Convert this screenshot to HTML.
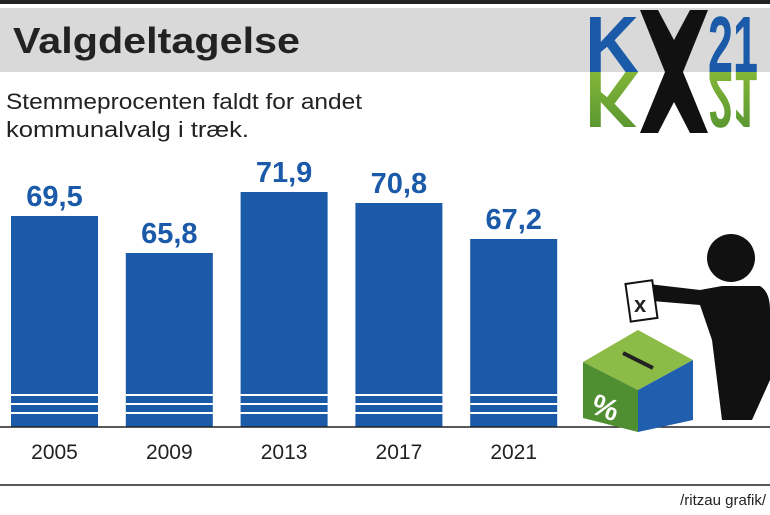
<!DOCTYPE html>
<html><head><meta charset="utf-8"><style>
body{margin:0;width:770px;height:515px;overflow:hidden;background:#fff;font-family:"Liberation Sans",sans-serif}
</style></head><body>
<svg width="770" height="515" style="position:absolute;left:0;top:0">
<rect x="0" y="0" width="770" height="4" fill="#222"/>
<rect x="0" y="8" width="770" height="64" fill="#d9d9d9"/>
<text x="13" y="53" font-size="36" font-weight="bold" fill="#222" textLength="287" lengthAdjust="spacingAndGlyphs">Valgdeltagelse</text>
<text x="6" y="109" font-size="22" fill="#222" textLength="356" lengthAdjust="spacingAndGlyphs">Stemmeprocenten faldt for andet</text>
<text x="6" y="137" font-size="22" fill="#222" textLength="243" lengthAdjust="spacingAndGlyphs">kommunalvalg i træk.</text>
<g>
<defs><linearGradient id="gr" x1="0" y1="0" x2="0" y2="1"><stop offset="0" stop-color="#4f8f2f"/><stop offset="1" stop-color="#8fbf3a"/></linearGradient></defs>
<text x="585" y="72" font-size="80" font-weight="bold" fill="#1a5aa8" textLength="54" lengthAdjust="spacingAndGlyphs">K</text>
<text x="708" y="72" font-size="80" font-weight="bold" fill="#1a5aa8" textLength="50" lengthAdjust="spacingAndGlyphs">21</text>
<g transform="translate(0,144) scale(1,-1)">
<text x="585" y="72" font-size="80" font-weight="bold" fill="url(#gr)" textLength="54" lengthAdjust="spacingAndGlyphs">K</text>
<text x="708" y="72" font-size="80" font-weight="bold" fill="url(#gr)" textLength="50" lengthAdjust="spacingAndGlyphs">21</text>
</g>
<path d="M640 10 L658 10 L674 40 L690 10 L708 10 L683 72 L708 133 L690 133 L674 102 L658 133 L640 133 L665 72 Z" fill="#111"/>
</g>
<g id="bars"></g>
<line x1="0" y1="427" x2="770" y2="427" stroke="#222" stroke-width="1.5"/>
<line x1="0" y1="485" x2="770" y2="485" stroke="#222" stroke-width="1.5"/>
<text x="766" y="505" font-size="15" text-anchor="end" fill="#222">/ritzau grafik/</text>
<g>
<circle cx="731" cy="258" r="24" fill="#111"/>
<path d="M640 283 L700 290 L722 286 L760 286 Q770 292 770 310 L770 380 L752 420 L722 420 L712 340 L700 305 L640 300 Z" fill="#111"/>
<rect x="628" y="282" width="27" height="38" fill="#fff" stroke="#111" stroke-width="2" transform="rotate(-8 641 301)"/>
<text x="634" y="312" font-size="22" font-weight="bold" fill="#222">x</text>
<polygon points="583,362 638,330 693,360 638,390" fill="#8dbb48"/>
<polygon points="583,362 638,390 638,432 583,418" fill="#4f8f32"/>
<polygon points="638,390 693,360 693,420 638,432" fill="#1f5fae"/>
<line x1="623" y1="353" x2="653" y2="368" stroke="#222" stroke-width="4"/>
<text x="592" y="418" font-size="30" font-weight="bold" fill="#fff" transform="rotate(20 606 408)">%</text>
</g>
</svg>
<script>
const years=["2005","2009","2013","2017","2021"];
const values=[69.5,65.8,71.9,70.8,67.2];
const valueLabels=["69,5","65,8","71,9","70,8","67,2"];
const ns="http://www.w3.org/2000/svg";
const g=document.getElementById('bars');
function xPos(i){return 11+i*114.8;}
function yPos(v){return 427-(v-48.4)*10;}
years.forEach((yr,i)=>{
 const x=xPos(i),w=87,y=yPos(values[i]);
 const r=document.createElementNS(ns,'rect');
 r.setAttribute('x',x);r.setAttribute('y',y);r.setAttribute('width',w);r.setAttribute('height',427-y);r.setAttribute('fill','#1a5aa8');
 
 
 g.appendChild(r);
 [394,403,412].forEach(sy=>{
  const s=document.createElementNS(ns,'rect');
  s.setAttribute('x',x);s.setAttribute('y',sy);s.setAttribute('width',w);s.setAttribute('height',2);s.setAttribute('fill','#fff');
  
  
  g.appendChild(s);
 });
 const t=document.createElementNS(ns,'text');
 t.setAttribute('x',x+w/2);t.setAttribute('y',y-10);t.setAttribute('text-anchor','middle');t.setAttribute('font-size','29');t.setAttribute('font-weight','bold');t.setAttribute('fill','#1a5aa8');
 t.textContent=valueLabels[i];
 
 
 g.appendChild(t);
 const l=document.createElementNS(ns,'text');
 l.setAttribute('x',x+w/2);l.setAttribute('y',459);l.setAttribute('text-anchor','middle');l.setAttribute('font-size','21');l.setAttribute('fill','#222');
 l.textContent=yr;
 
 
 g.appendChild(l);
});
</script>
</body></html>
